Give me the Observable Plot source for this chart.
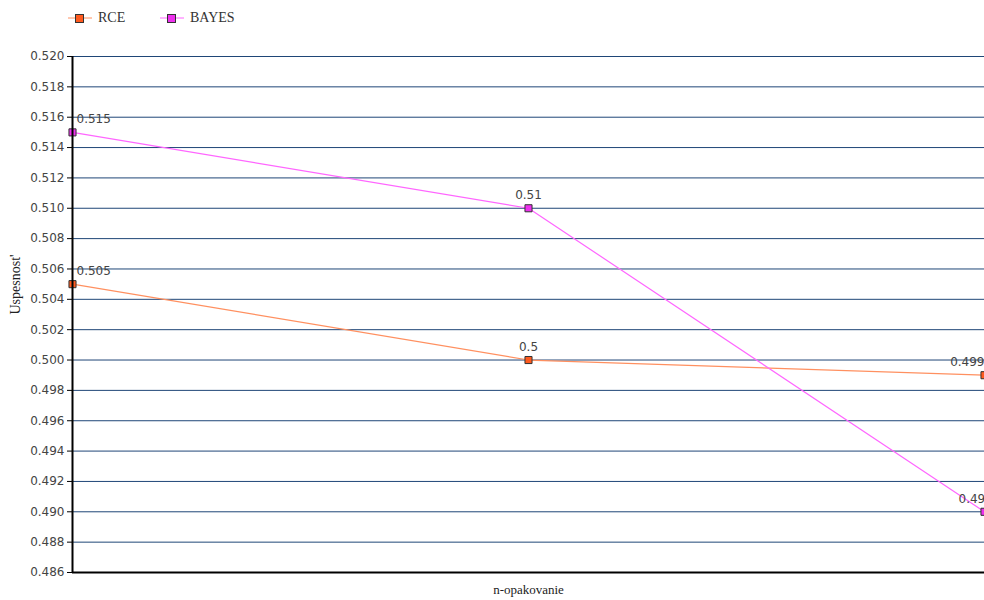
<!DOCTYPE html>
<html>
<head>
<meta charset="utf-8">
<script src="https://cdn.jsdelivr.net/npm/d3@7"></script>
<script src="https://cdn.jsdelivr.net/npm/@observablehq/plot@0.6"></script>
<style>
  html, body { margin: 0; padding: 0; background: #fff; overflow: hidden; width: 984px; height: 600px; }
  #legend { position: relative; height: 36px; font-family: "Liberation Serif", "DejaVu Serif", serif; font-size: 14px; color: #333; }
  .item { position: absolute; top: 8px; height: 20px; display: flex; align-items: center; }
  .item svg { display: block; margin-right: 6px; }
</style>
</head>
<body>
<div id="legend"></div>
<div id="chart"></div>
<script>
// ---- data ----
const categories = ["1", "2", "3"];
const seriesNames = ["RCE", "BAYES"];
const rce = [0.505, 0.5, 0.499];
const bayes = [0.515, 0.51, 0.49];
const rceLabels = ["0.505", "0.5", "0.499"];
const bayesLabels = ["0.515", "0.51", "0.49"];
const yTicks = [0.486, 0.488, 0.490, 0.492, 0.494, 0.496, 0.498, 0.500, 0.502, 0.504, 0.506, 0.508, 0.510, 0.512, 0.514, 0.516, 0.518, 0.520];

const colors = {
  RCE: { line: "#ff9060", fill: "#ff5a1e" },
  BAYES: { line: "#ff66ff", fill: "#ee30ee" }
};

const rows = [];
categories.forEach((c, i) => {
  rows.push({ cat: c, series: "RCE", value: rce[i], label: rceLabels[i], idx: i });
  rows.push({ cat: c, series: "BAYES", value: bayes[i], label: bayesLabels[i], idx: i });
});

// ---- legend ----
const legend = document.getElementById("legend");
const legendX = [68, 160];
seriesNames.forEach((name, k) => {
  const d = document.createElement("div");
  d.className = "item";
  d.style.left = legendX[k] + "px";
  d.innerHTML = `<svg width="24" height="10"><line x1="0" x2="24" y1="5" y2="5" stroke="${colors[name].line}" stroke-width="1"/><rect x="7.5" y="1.5" width="8" height="8" fill="${colors[name].fill}" stroke="#333" stroke-width="1"/></svg><span>${name}</span>`;
  legend.appendChild(d);
});

// ---- chart ----
const labelFont = "DejaVu Sans, sans-serif";
const chart = Plot.plot({
  width: 984,
  height: 564,
  marginTop: 20,
  marginBottom: 28,
  marginLeft: 72,
  marginRight: 0,
  style: { fontFamily: labelFont, fontSize: "12px", color: "#444", background: "#fff" },
  x: { type: "point", domain: categories, padding: 0, axis: null },
  y: { domain: [0.486, 0.520], ticks: yTicks, tickFormat: d3.format(".3f"), label: null },
  marks: [
    Plot.ruleY(yTicks.filter(t => t > 0.4865), { stroke: "#1f4677", strokeWidth: 1, strokeOpacity: 1 }),
    Plot.axisY({ ticks: yTicks, tickFormat: d3.format(".3f"), tickSize: 5, tickPadding: 3, label: null, fontSize: 12, fill: "#444", stroke: "#000" }),
    Plot.line(rows, { x: "cat", y: "value", z: "series", stroke: d => colors[d.series].line, strokeWidth: 1.2 }),
    Plot.dot(rows, { x: "cat", y: "value", symbol: "square", r: 4, fill: d => colors[d.series].fill, stroke: "#333", strokeWidth: 1 }),
    Plot.text(rows.filter(d => d.idx === 0), { x: "cat", y: "value", text: "label", textAnchor: "start", dx: 4, dy: -13, fontSize: 12, fill: "#444", fontFamily: labelFont }),
    Plot.text(rows.filter(d => d.idx === 1), { x: "cat", y: "value", text: "label", textAnchor: "middle", dy: -13, fontSize: 12, fill: "#444", fontFamily: labelFont }),
    Plot.text(rows.filter(d => d.idx === 2 && d.series === "RCE"), { x: "cat", y: "value", text: "label", textAnchor: "end", dx: 0, dy: -13, fontSize: 12, fill: "#444", fontFamily: labelFont }),
    Plot.text(rows.filter(d => d.idx === 2 && d.series === "BAYES"), { x: "cat", y: "value", text: "label", textAnchor: "start", dx: -26, dy: -13, fontSize: 12, fill: "#444", fontFamily: labelFont }),
    Plot.ruleX([categories[0]], { stroke: "#000", strokeWidth: 2 }),
    Plot.ruleY([0.486], { stroke: "#000", strokeWidth: 2 }),
    Plot.text(["Uspesnost'"], { frameAnchor: "left", dx: -57, rotate: -90, fontFamily: "Liberation Serif, serif", fontSize: 14, fill: "#222" }),
    Plot.text(["n-opakovanie"], { frameAnchor: "bottom", dy: 21, fontFamily: "Liberation Serif, serif", fontSize: 13, fill: "#222" })
  ]
});
document.getElementById("chart").appendChild(chart);
</script>
</body>
</html>
